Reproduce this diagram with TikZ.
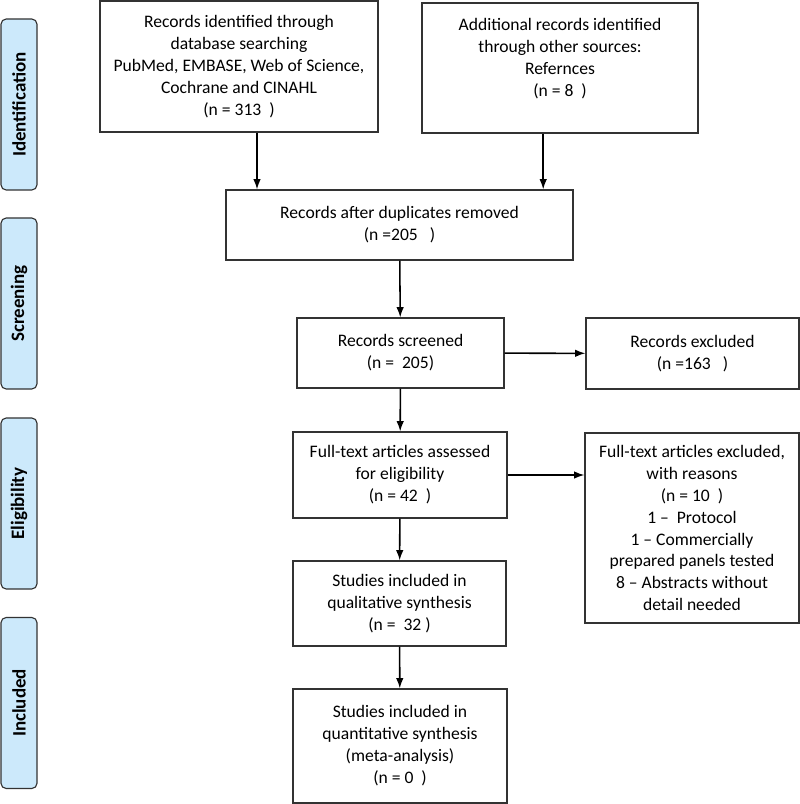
\documentclass[tikz,border=0pt]{standalone}
\usepackage{fontspec}
\setmainfont{Carlito}
\usetikzlibrary{arrows.meta}
\definecolor{phaseblue}{HTML}{CCE9FB}
\definecolor{edgegray}{HTML}{333333}
\begin{document}
\begin{tikzpicture}[x=0.025cm, y=-0.025cm,
    box/.style={draw=edgegray, line width=0.8pt, align=center, inner sep=0pt,
      font=\fontsize{12.5}{15.6}\selectfont},
    phase/.style={draw=edgegray, fill=phaseblue, line width=0.8pt, rounded corners=0.13cm,
      rotate=90, minimum width=4.275cm, minimum height=0.9cm, inner sep=0pt,
      font=\fontsize{13.5}{15}\selectfont\bfseries},
    arr/.style={line width=1.1pt, -{Latex[length=0.26cm, width=0.19cm]}}]
    \useasboundingbox (0,0) rectangle (800,804);
    % phases
    \draw(19,104.5) node[phase](idn){Identification};
    \draw(19,303.5) node[phase](scr){Screening};
    \draw(19,503.5) node[phase](elg){Eligibility};
    \draw(19,703) node[phase](inc){Included};
    % boxes
    \draw(239,66.5) node[box, minimum width=6.95cm, minimum height=3.275cm](db){Records identified through\\database searching\\PubMed, EMBASE, Web of Science,\\Cochrane and CINAHL\\(n = 313~~)};
    \draw(560,68) node[box, minimum width=6.9cm, minimum height=3.25cm](other){Additional records identified\\through other sources:\\Refernces\\(n = 8~~)\\\mbox{}};
    \draw(399.5,225) node[box, minimum width=8.675cm, minimum height=1.75cm](dup){Records after duplicates removed\\(n =205~~~)};
    \draw(400.5,353) node[box, minimum width=5.175cm, minimum height=1.75cm](scrd){Records screened\\(n =~~205)};
    \draw(692.5,353.5) node[box, minimum width=5.325cm, minimum height=1.775cm](excl){Records excluded\\(n =163~~~)};
    \draw(400,475) node[box, minimum width=5.35cm, minimum height=2.15cm](full){Full-text articles assessed\\for eligibility\\(n = 42~~)};
    \draw(692,528) node[box, minimum width=5.35cm, minimum height=4.75cm](fexcl){Full-text articles excluded,\\with reasons\\(n = 10~~)\\1 --~~Protocol\\1 -- Commercially\\prepared panels tested\\8 -- Abstracts without\\detail needed};
    \draw(399.5,603.5) node[box, minimum width=5.325cm, minimum height=2.125cm](qual){Studies included in\\qualitative synthesis\\(n =~~32 )};
    \draw(400,746) node[box, minimum width=5.35cm, minimum height=2.85cm](quant){Studies included in\\quantitative synthesis\\(meta-analysis)\\(n = 0~~)};
    % arrows
    \draw[arr] ([xshift=0.45cm]db.south) -- ([xshift=0.45cm]db.south |- dup.north);
    \draw[arr] ([xshift=-0.42cm]other.south) -- ([xshift=-0.42cm]other.south |- dup.north);
    \draw[arr] (dup) -- (scrd);
    \draw[arr] (scrd) -- (excl);
    \draw[arr] (scrd) -- (full);
    \draw[arr] (full) -- (full -| fexcl.west);
    \draw[arr] (full) -- (qual);
    \draw[arr] (qual) -- (quant);
\end{tikzpicture}
\end{document}
